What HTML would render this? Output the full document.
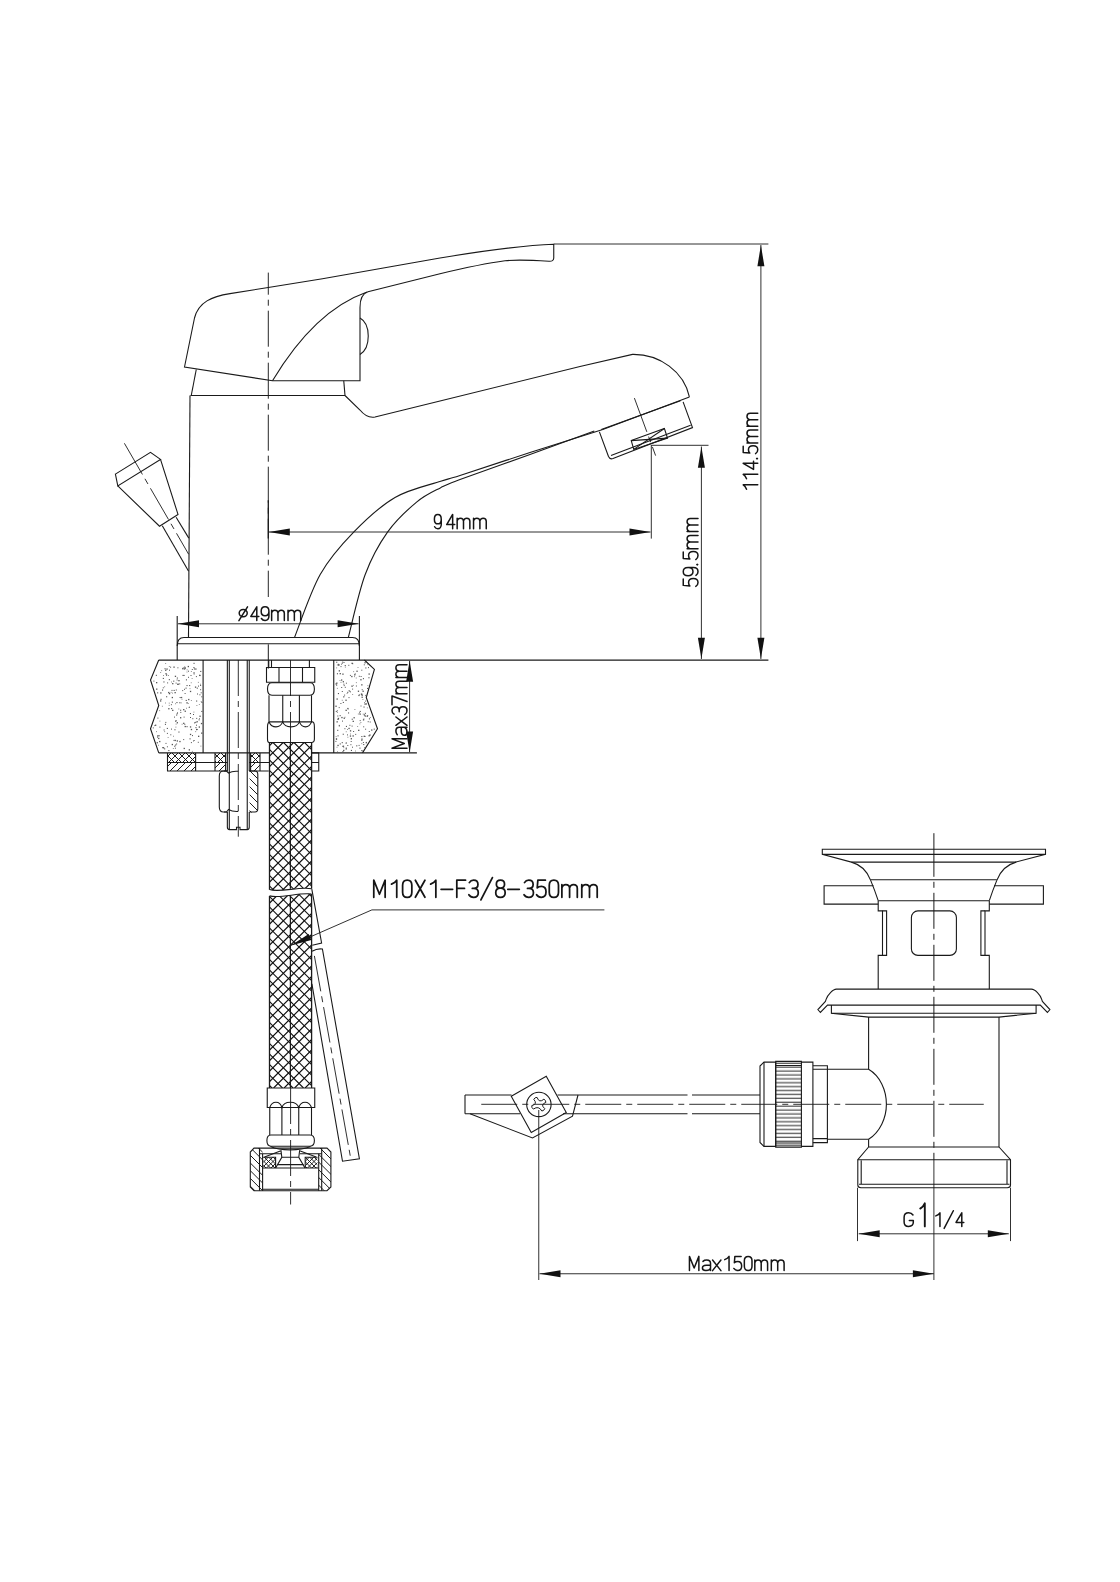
<!DOCTYPE html>
<html><head><meta charset="utf-8"><style>
html,body{margin:0;padding:0;background:#fff;width:1120px;height:1582px;overflow:hidden}
svg{display:block}
text{font-family:"Liberation Sans",sans-serif;fill:#111;stroke:none}
</style></head><body>
<svg width="1120" height="1582" viewBox="0 0 1120 1582">
<defs><clipPath id="c1"><path d="M167.5,752.9 h28.1 v9.6 h-28.1 Z"/></clipPath><clipPath id="c2"><path d="M167.5,752.9 h28.1 v9.6 h-28.1 Z"/></clipPath><clipPath id="c3"><path d="M167.5,762.5 h28.1 v8.5 h-28.1 Z"/></clipPath><clipPath id="c4"><path d="M215,752.9 h10.6 v9.6 h-10.6 Z"/></clipPath><clipPath id="c5"><path d="M215,752.9 h10.6 v9.6 h-10.6 Z"/></clipPath><clipPath id="c6"><path d="M215,762.5 h10.6 v8.5 h-10.6 Z"/></clipPath><clipPath id="c7"><path d="M250.6,752.9 h9.4 v9.6 h-9.4 Z"/></clipPath><clipPath id="c8"><path d="M250.6,752.9 h9.4 v9.6 h-9.4 Z"/></clipPath><clipPath id="c9"><path d="M250.6,762.5 h9.4 v8.5 h-9.4 Z"/></clipPath><clipPath id="c10"><path d="M249.6,771 h8 v41.5 h-8 Z"/></clipPath><clipPath id="c11"><path d="M269.3,742.5 L311.5,742.5 L311.5,888.75 C300,886 280,893 269.3,889.6 Z M269.3,895.9 C280,899 300,892 311.5,894.1 L311.5,1088 L269.3,1088 Z"/></clipPath><clipPath id="c12"><path d="M269.3,742.5 L311.5,742.5 L311.5,888.75 C300,886 280,893 269.3,889.6 Z M269.3,895.9 C280,899 300,892 311.5,894.1 L311.5,1088 L269.3,1088 Z"/></clipPath><clipPath id="c13"><path d="M250.3,1152 L254,1148.1 L262.6,1148.1 L262.6,1190.7 L254,1190.7 L250.3,1187 Z"/></clipPath><clipPath id="c14"><path d="M318.7,1148.1 L327,1148.1 L330.9,1152 L330.9,1187 L327,1190.7 L318.7,1190.7 Z"/></clipPath><clipPath id="c15"><path d="M263.4,1157.3 h12.2 v10.7 h-12.2 Z"/></clipPath><clipPath id="c16"><path d="M263.4,1157.3 h12.2 v10.7 h-12.2 Z"/></clipPath><clipPath id="c17"><path d="M305.2,1157.3 h12.2 v10.7 h-12.2 Z"/></clipPath><clipPath id="c18"><path d="M305.2,1157.3 h12.2 v10.7 h-12.2 Z"/></clipPath>
<pattern id="xb" patternUnits="userSpaceOnUse" width="10.5" height="10.5" patternTransform="translate(272.8,962.8)">
<path d="M0,0 L10.5,10.5 M10.5,0 L0,10.5 M-1,9.5 L1,11.5 M9.5,-1 L11.5,1 M-1,1 L1,-1 M9.5,11.5 L11.5,9.5" stroke="#111" stroke-width="1.15"/></pattern>
<pattern id="xh" patternUnits="userSpaceOnUse" width="5" height="5">
<path d="M0,0 L5,5 M5,0 L0,5" stroke="#111" stroke-width="0.9"/></pattern>
<pattern id="dh" patternUnits="userSpaceOnUse" width="5" height="5" patternTransform="rotate(45)">
<path d="M0,0 L0,5" stroke="#111" stroke-width="0.9"/></pattern>
<pattern id="kn" patternUnits="userSpaceOnUse" width="10" height="3.9" patternTransform="translate(0,1062)">
<path d="M0,1.2 L10,1.2" stroke="#222" stroke-width="1"/></pattern>
</defs>
<g fill="none" stroke="#1a1a1a" stroke-linecap="butt" stroke-linejoin="miter">
<path d="M184.5,367 L194.5,318 C198.5,302 212,296.5 230,293.6 L268.25,287.5 L322.5,278.75 L440,258 C485,250.5 520,245.5 553.75,244.3 L553.75,258 C553.75,260.5 552,261.4 549,261.2 C530,260 515,259.5 505,260.8 C485,263.5 460,269 440,273.75 L368,291.8 C362.5,293.5 360,299 360,307.5 L360,380.75 L272.5,380.75 Z" stroke-width="1.1" />
<path d="M272.5,380.75 C300,335 330,305 367,292" stroke-width="1.1" />
<path d="M360,318 C371,324 371,348 360,354.5" stroke-width="1.1" />
<line x1="196.25" y1="369.5" x2="191.25" y2="395.5" stroke-width="1.1" />
<line x1="343.75" y1="380.75" x2="345" y2="395.5" stroke-width="1.1" />
<line x1="190.5" y1="395.5" x2="345" y2="395.5" stroke-width="1.1" />
<line x1="190" y1="395.5" x2="188.5" y2="637.5" stroke-width="1.1" />
<path d="M345,395.5 L360,410 C364,415 369,418 375,417 L440,401 L580,366.5 L632.5,354.4 C660,354 684,372 689.4,396.9" stroke-width="1.1" />
<path d="M294.5,637.5 C298.78,627.00 310.30,592.10 320.2,574.5 C330.10,556.90 341.43,544.73 353.9,531.9 C366.37,519.07 380.53,505.94 395,497.5 C409.47,489.06 429.87,484.90 440.7,481.25 C451.53,477.60 445.12,480.39 460,475.6 C474.88,470.81 506.20,460.17 530,452.5 C553.80,444.83 590.67,433.42 602.8,429.6 L689.4,396.9" stroke-width="1.1" />
<path d="M348.3,637.5 C351.12,627.00 358.63,592.10 365.2,574.5 C371.77,556.90 379.13,543.97 387.7,531.9 C396.27,519.83 407.77,509.47 416.6,502.1 C425.43,494.73 433.47,491.45 440.7,487.7 C447.93,483.95 445.12,485.13 460,479.6 C474.88,474.07 507.62,462.60 530,454.5 C552.38,446.40 583.58,434.92 594.3,431" stroke-width="1.1" />
<line x1="601.25" y1="429.4" x2="680.5" y2="400.7" stroke-width="1.1" />
<path d="M599.4,431.9 L608.5,456.5 C609.5,458.7 611,459.3 613,458.6 L692.5,427.6 L683.1,401.9" stroke-width="1.1" />
<line x1="611" y1="455.6" x2="690.6" y2="425.2" stroke-width="1.1" />
<path d="M631.25,440.6 L664.4,428.5 L667.5,438.1 L633.75,449.4 Z" stroke-width="1.1" />
<line x1="631.25" y1="440.6" x2="667.5" y2="438.1" stroke-width="1.1" />
<line x1="633.75" y1="449.4" x2="664.4" y2="428.5" stroke-width="1.1" />
<line x1="634.4" y1="398.1" x2="655.6" y2="455.6" stroke-width="0.9" stroke-dasharray="36 5 6 5" stroke-dashoffset="0"/>
<path d="M115.4,474.1 L150.5,452.3 L160.5,459.4 L117.8,485.9 Z" stroke-width="1.1" />
<path d="M117.8,485.9 L159.5,526.2 L178,514.4 L160.5,459.4" stroke-width="1.1" />
<line x1="162.3" y1="525.7" x2="188.6" y2="571.2" stroke-width="1.1" />
<line x1="176.1" y1="517.2" x2="188.8" y2="538.1" stroke-width="1.1" />
<line x1="124.4" y1="443.3" x2="188.6" y2="554.2" stroke-width="0.9" stroke-dasharray="36 5 6 5" stroke-dashoffset="0"/>
<line x1="268.3" y1="272.6" x2="268.3" y2="597" stroke-width="0.95" stroke-dasharray="36 5 6 5" stroke-dashoffset="13.9"/>
<line x1="268.3" y1="500.3" x2="268.3" y2="538.6" stroke-width="1.3" />
<line x1="268.3" y1="644.3" x2="268.3" y2="668.6" stroke-width="1.0" />
<path d="M177.2,660 L177.2,646 C177.2,640 179,637.5 184,637.5 L352.5,637.5 C357.5,637.5 359.4,640 359.4,646 L359.4,660" stroke-width="1.1" />
<line x1="177.2" y1="643.8" x2="359.4" y2="643.8" stroke-width="1.1" />
<line x1="177.2" y1="616" x2="177.2" y2="646" stroke-width="1.1" />
<line x1="359.4" y1="616" x2="359.4" y2="646" stroke-width="1.1" />
<line x1="178" y1="623.8" x2="358.6" y2="623.8" stroke-width="0.9" />
<path d="M178.00,623.80 L199.00,620.30 L199.00,627.30 Z" fill="#111" stroke="none"/>
<path d="M358.60,623.80 L337.60,627.30 L337.60,620.30 Z" fill="#111" stroke="none"/>
<g transform="translate(238.9,606.8) scale(1.4367,1.3600)" fill="none" stroke="#151515" stroke-width="1.5" stroke-linecap="round" stroke-linejoin="round"><path transform="translate(0.000,0) scale(1.0,1)" d="M3,1.9 C4.6,1.9 5.8,3.1 5.8,4.6 C5.8,6.1 4.6,7.4 3,7.4 C1.4,7.4 0.2,6.1 0.2,4.6 C0.2,3.1 1.4,1.9 3,1.9 Z M0,10.2 L6,0" vector-effect="non-scaling-stroke"/><path transform="translate(8.310,0) scale(0.9,1)" d="M4.6,10 L4.6,0 L0,7.1 L6.2,7.1" vector-effect="non-scaling-stroke"/><path transform="translate(15.500,0) scale(0.9,1)" d="M6,3.3 C6,5.3 4.8,6.6 3,6.6 C1.2,6.6 0,5.3 0,3.3 C0,1.3 1.2,0 3,0 C4.8,0 6,1.3 6,3.3 L6,6.8 C6,8.8 4.8,10 3,10 C1.8,10 0.8,9.5 0.2,8.6" vector-effect="non-scaling-stroke"/><path transform="translate(22.784,0) scale(0.92,1)" d="M0,10 L0,2.6 M0,4.4 C0.4,3.3 1.2,2.6 2.4,2.6 C3.8,2.6 4.8,3.3 4.8,4.8 L4.8,10 M4.8,4.4 C5.2,3.3 6,2.6 7.2,2.6 C8.6,2.6 9.6,3.3 9.6,4.8 L9.6,10" vector-effect="non-scaling-stroke"/><path transform="translate(34.184,0) scale(0.92,1)" d="M0,10 L0,2.6 M0,4.4 C0.4,3.3 1.2,2.6 2.4,2.6 C3.8,2.6 4.8,3.3 4.8,4.8 L4.8,10 M4.8,4.4 C5.2,3.3 6,2.6 7.2,2.6 C8.6,2.6 9.6,3.3 9.6,4.8 L9.6,10" vector-effect="non-scaling-stroke"/></g>
<line x1="268.8" y1="532" x2="650.5" y2="532" stroke-width="0.9" />
<path d="M268.80,532.00 L289.80,528.50 L289.80,535.50 Z" fill="#111" stroke="none"/>
<path d="M650.50,532.00 L629.50,535.50 L629.50,528.50 Z" fill="#111" stroke="none"/>
<line x1="651.3" y1="445" x2="651.3" y2="538.6" stroke-width="0.9" />
<g transform="translate(434,514.4) scale(1.2719,1.4350)" fill="none" stroke="#151515" stroke-width="1.5" stroke-linecap="round" stroke-linejoin="round"><path transform="translate(0.300,0) scale(0.9,1)" d="M6,3.3 C6,5.3 4.8,6.6 3,6.6 C1.2,6.6 0,5.3 0,3.3 C0,1.3 1.2,0 3,0 C4.8,0 6,1.3 6,3.3 L6,6.8 C6,8.8 4.8,10 3,10 C1.8,10 0.8,9.5 0.2,8.6" vector-effect="non-scaling-stroke"/></g>
<g transform="translate(446.25,514.4) scale(1.4380,1.4350)" fill="none" stroke="#151515" stroke-width="1.5" stroke-linecap="round" stroke-linejoin="round"><path transform="translate(0.310,0) scale(0.9,1)" d="M4.6,10 L4.6,0 L0,7.1 L6.2,7.1" vector-effect="non-scaling-stroke"/><path transform="translate(7.584,0) scale(0.92,1)" d="M0,10 L0,2.6 M0,4.4 C0.4,3.3 1.2,2.6 2.4,2.6 C3.8,2.6 4.8,3.3 4.8,4.8 L4.8,10 M4.8,4.4 C5.2,3.3 6,2.6 7.2,2.6 C8.6,2.6 9.6,3.3 9.6,4.8 L9.6,10" vector-effect="non-scaling-stroke"/><path transform="translate(18.984,0) scale(0.92,1)" d="M0,10 L0,2.6 M0,4.4 C0.4,3.3 1.2,2.6 2.4,2.6 C3.8,2.6 4.8,3.3 4.8,4.8 L4.8,10 M4.8,4.4 C5.2,3.3 6,2.6 7.2,2.6 C8.6,2.6 9.6,3.3 9.6,4.8 L9.6,10" vector-effect="non-scaling-stroke"/></g>
<line x1="651.3" y1="445.3" x2="708.5" y2="445.3" stroke-width="0.9" />
<line x1="701.4" y1="446.5" x2="701.4" y2="659" stroke-width="0.9" />
<path d="M701.40,446.80 L704.90,467.80 L697.90,467.80 Z" fill="#111" stroke="none"/>
<path d="M701.40,658.80 L697.90,637.80 L704.90,637.80 Z" fill="#111" stroke="none"/>
<g transform="translate(683.25,586.9) rotate(-90) scale(1.4951,1.4750)" fill="none" stroke="#151515" stroke-width="1.5" stroke-linecap="round" stroke-linejoin="round"><path transform="translate(0.300,0) scale(0.9,1)" d="M5.6,0 L0.8,0 L0.4,4.5 C1.1,3.9 2,3.6 3,3.6 C4.8,3.6 6,4.9 6,6.8 C6,8.7 4.8,10 3,10 C1.7,10 0.6,9.4 0,8.5" vector-effect="non-scaling-stroke"/><path transform="translate(7.500,0) scale(0.9,1)" d="M6,3.3 C6,5.3 4.8,6.6 3,6.6 C1.2,6.6 0,5.3 0,3.3 C0,1.3 1.2,0 3,0 C4.8,0 6,1.3 6,3.3 L6,6.8 C6,8.8 4.8,10 3,10 C1.8,10 0.8,9.5 0.2,8.6" vector-effect="non-scaling-stroke"/><path transform="translate(14.400,0) scale(1.0,1)" d="M0.2,9.5 L0.8,9.5 M0.5,9.2 L0.5,9.8" vector-effect="non-scaling-stroke"/><path transform="translate(18.300,0) scale(0.9,1)" d="M5.6,0 L0.8,0 L0.4,4.5 C1.1,3.9 2,3.6 3,3.6 C4.8,3.6 6,4.9 6,6.8 C6,8.7 4.8,10 3,10 C1.7,10 0.6,9.4 0,8.5" vector-effect="non-scaling-stroke"/><path transform="translate(25.584,0) scale(0.92,1)" d="M0,10 L0,2.6 M0,4.4 C0.4,3.3 1.2,2.6 2.4,2.6 C3.8,2.6 4.8,3.3 4.8,4.8 L4.8,10 M4.8,4.4 C5.2,3.3 6,2.6 7.2,2.6 C8.6,2.6 9.6,3.3 9.6,4.8 L9.6,10" vector-effect="non-scaling-stroke"/><path transform="translate(36.984,0) scale(0.92,1)" d="M0,10 L0,2.6 M0,4.4 C0.4,3.3 1.2,2.6 2.4,2.6 C3.8,2.6 4.8,3.3 4.8,4.8 L4.8,10 M4.8,4.4 C5.2,3.3 6,2.6 7.2,2.6 C8.6,2.6 9.6,3.3 9.6,4.8 L9.6,10" vector-effect="non-scaling-stroke"/></g>
<line x1="553.75" y1="244" x2="768.4" y2="244" stroke-width="0.9" />
<line x1="760.9" y1="245" x2="760.9" y2="659" stroke-width="0.9" />
<path d="M760.90,245.20 L764.40,266.20 L757.40,266.20 Z" fill="#111" stroke="none"/>
<path d="M760.90,658.80 L757.40,637.80 L764.40,637.80 Z" fill="#111" stroke="none"/>
<g transform="translate(743.2,491) rotate(-90) scale(1.4656,1.4550)" fill="none" stroke="#151515" stroke-width="1.5" stroke-linecap="round" stroke-linejoin="round"><path transform="translate(0.000,0) scale(1.0,1)" d="M1.2,2.3 C2.4,1.8 3.6,1 4.2,0 L4.2,10" vector-effect="non-scaling-stroke"/><path transform="translate(7.200,0) scale(1.0,1)" d="M1.2,2.3 C2.4,1.8 3.6,1 4.2,0 L4.2,10" vector-effect="non-scaling-stroke"/><path transform="translate(14.710,0) scale(0.9,1)" d="M4.6,10 L4.6,0 L0,7.1 L6.2,7.1" vector-effect="non-scaling-stroke"/><path transform="translate(21.600,0) scale(1.0,1)" d="M0.2,9.5 L0.8,9.5 M0.5,9.2 L0.5,9.8" vector-effect="non-scaling-stroke"/><path transform="translate(25.500,0) scale(0.9,1)" d="M5.6,0 L0.8,0 L0.4,4.5 C1.1,3.9 2,3.6 3,3.6 C4.8,3.6 6,4.9 6,6.8 C6,8.7 4.8,10 3,10 C1.7,10 0.6,9.4 0,8.5" vector-effect="non-scaling-stroke"/><path transform="translate(32.784,0) scale(0.92,1)" d="M0,10 L0,2.6 M0,4.4 C0.4,3.3 1.2,2.6 2.4,2.6 C3.8,2.6 4.8,3.3 4.8,4.8 L4.8,10 M4.8,4.4 C5.2,3.3 6,2.6 7.2,2.6 C8.6,2.6 9.6,3.3 9.6,4.8 L9.6,10" vector-effect="non-scaling-stroke"/><path transform="translate(44.184,0) scale(0.92,1)" d="M0,10 L0,2.6 M0,4.4 C0.4,3.3 1.2,2.6 2.4,2.6 C3.8,2.6 4.8,3.3 4.8,4.8 L4.8,10 M4.8,4.4 C5.2,3.3 6,2.6 7.2,2.6 C8.6,2.6 9.6,3.3 9.6,4.8 L9.6,10" vector-effect="non-scaling-stroke"/></g>
<line x1="158.75" y1="660.2" x2="768.4" y2="660.2" stroke-width="1.2" />
<line x1="158.75" y1="752.9" x2="269.3" y2="752.9" stroke-width="1.2" />
<line x1="311.5" y1="752.9" x2="416.9" y2="752.9" stroke-width="1.2" />
<path d="M158.75,660 L150.5,680 L158.75,705.5 L150.5,728.75 L158.75,752.9" stroke-width="1.1" />
<line x1="203.1" y1="660" x2="203.1" y2="752.9" stroke-width="1.1" />
<path d="M364.4,660 L374.4,669.4 L366.25,697.5 L377.5,728.75 L362.5,752.9" stroke-width="1.1" />
<line x1="333.75" y1="660" x2="333.75" y2="752.9" stroke-width="1.1" />
<g fill="#555" stroke="none"><rect x="168.1" y="675.1" width="0.8" height="0.8"/><rect x="170.1" y="666.7" width="1.0" height="1.0"/><rect x="173.1" y="735.8" width="0.8" height="0.8"/><rect x="199.0" y="718.2" width="0.8" height="0.8"/><rect x="180.6" y="697.2" width="1.0" height="1.0"/><rect x="166.4" y="674.5" width="0.8" height="0.8"/><rect x="180.3" y="711.9" width="1.0" height="1.0"/><rect x="161.3" y="670.3" width="0.8" height="0.8"/><rect x="180.0" y="717.1" width="1.3" height="1.3"/><rect x="185.7" y="699.9" width="1.1" height="1.1"/><rect x="175.1" y="744.5" width="1.1" height="1.1"/><rect x="166.9" y="732.9" width="1.0" height="1.0"/><rect x="156.1" y="688.5" width="1.3" height="1.3"/><rect x="195.4" y="727.1" width="1.1" height="1.1"/><rect x="182.2" y="668.1" width="1.3" height="1.3"/><rect x="160.2" y="692.3" width="1.3" height="1.3"/><rect x="172.9" y="748.0" width="0.8" height="0.8"/><rect x="189.9" y="713.0" width="1.1" height="1.1"/><rect x="168.9" y="693.0" width="1.3" height="1.3"/><rect x="180.8" y="702.5" width="0.8" height="0.8"/><rect x="198.9" y="704.1" width="0.8" height="0.8"/><rect x="155.0" y="724.6" width="1.3" height="1.3"/><rect x="166.1" y="696.2" width="1.1" height="1.1"/><rect x="160.3" y="672.0" width="0.8" height="0.8"/><rect x="162.8" y="687.3" width="1.0" height="1.0"/><rect x="171.7" y="743.9" width="1.3" height="1.3"/><rect x="179.3" y="740.9" width="1.3" height="1.3"/><rect x="194.9" y="686.5" width="1.3" height="1.3"/><rect x="200.9" y="722.9" width="1.3" height="1.3"/><rect x="199.5" y="675.1" width="1.0" height="1.0"/><rect x="159.5" y="720.7" width="0.8" height="0.8"/><rect x="176.1" y="714.5" width="1.1" height="1.1"/><rect x="166.0" y="674.6" width="1.1" height="1.1"/><rect x="182.2" y="690.1" width="1.0" height="1.0"/><rect x="186.2" y="707.8" width="0.8" height="0.8"/><rect x="174.6" y="739.8" width="1.3" height="1.3"/><rect x="171.7" y="696.9" width="1.3" height="1.3"/><rect x="183.5" y="667.1" width="0.8" height="0.8"/><rect x="200.8" y="701.1" width="0.8" height="0.8"/><rect x="168.9" y="666.2" width="0.8" height="0.8"/><rect x="180.1" y="709.7" width="1.1" height="1.1"/><rect x="182.4" y="667.8" width="1.0" height="1.0"/><rect x="182.5" y="674.9" width="1.1" height="1.1"/><rect x="199.4" y="715.6" width="1.3" height="1.3"/><rect x="158.1" y="737.8" width="1.3" height="1.3"/><rect x="175.8" y="689.5" width="1.0" height="1.0"/><rect x="157.1" y="692.3" width="1.1" height="1.1"/><rect x="175.7" y="723.7" width="0.8" height="0.8"/><rect x="162.2" y="747.1" width="1.1" height="1.1"/><rect x="159.3" y="710.3" width="0.8" height="0.8"/><rect x="189.6" y="688.3" width="0.8" height="0.8"/><rect x="186.5" y="685.0" width="1.1" height="1.1"/><rect x="197.0" y="693.5" width="1.0" height="1.0"/><rect x="178.4" y="731.5" width="1.1" height="1.1"/><rect x="183.6" y="716.6" width="1.0" height="1.0"/><rect x="192.0" y="735.1" width="1.0" height="1.0"/><rect x="161.9" y="705.8" width="0.8" height="0.8"/><rect x="201.1" y="732.5" width="1.3" height="1.3"/><rect x="164.9" y="723.8" width="1.1" height="1.1"/><rect x="174.2" y="745.7" width="1.1" height="1.1"/><rect x="199.4" y="694.3" width="1.0" height="1.0"/><rect x="168.8" y="704.9" width="0.8" height="0.8"/><rect x="175.8" y="720.2" width="0.8" height="0.8"/><rect x="193.4" y="672.3" width="1.3" height="1.3"/><rect x="190.8" y="728.9" width="1.3" height="1.3"/><rect x="196.1" y="700.5" width="1.1" height="1.1"/><rect x="187.8" y="703.1" width="0.8" height="0.8"/><rect x="188.0" y="676.8" width="1.0" height="1.0"/><rect x="175.1" y="720.5" width="1.3" height="1.3"/><rect x="184.6" y="693.0" width="1.0" height="1.0"/><rect x="188.0" y="670.7" width="1.0" height="1.0"/><rect x="173.5" y="739.9" width="1.0" height="1.0"/><rect x="153.4" y="680.6" width="1.0" height="1.0"/><rect x="189.9" y="690.8" width="1.3" height="1.3"/><rect x="193.4" y="667.0" width="1.1" height="1.1"/><rect x="196.5" y="721.1" width="1.3" height="1.3"/><rect x="193.0" y="740.4" width="1.0" height="1.0"/><rect x="178.4" y="708.6" width="0.8" height="0.8"/><rect x="195.3" y="731.3" width="0.8" height="0.8"/><rect x="190.5" y="675.0" width="1.0" height="1.0"/><rect x="175.5" y="726.7" width="0.8" height="0.8"/><rect x="168.2" y="708.1" width="1.3" height="1.3"/><rect x="190.9" y="671.0" width="0.8" height="0.8"/><rect x="164.3" y="686.4" width="0.8" height="0.8"/><rect x="177.2" y="712.0" width="0.8" height="0.8"/><rect x="174.0" y="716.6" width="1.0" height="1.0"/><rect x="186.4" y="702.2" width="1.3" height="1.3"/><rect x="177.2" y="683.8" width="1.1" height="1.1"/><rect x="197.8" y="741.8" width="1.0" height="1.0"/><rect x="193.7" y="673.8" width="0.8" height="0.8"/><rect x="171.5" y="689.9" width="1.0" height="1.0"/><rect x="173.2" y="680.6" width="1.1" height="1.1"/><rect x="190.9" y="742.1" width="1.0" height="1.0"/><rect x="198.6" y="719.3" width="1.1" height="1.1"/><rect x="159.1" y="740.9" width="1.3" height="1.3"/><rect x="162.9" y="747.1" width="1.3" height="1.3"/><rect x="195.9" y="676.1" width="1.0" height="1.0"/><rect x="160.0" y="700.3" width="1.3" height="1.3"/><rect x="168.8" y="679.1" width="1.1" height="1.1"/><rect x="168.8" y="702.7" width="0.8" height="0.8"/><rect x="171.1" y="708.0" width="1.1" height="1.1"/><rect x="177.4" y="667.3" width="1.0" height="1.0"/><rect x="200.2" y="670.9" width="1.1" height="1.1"/><rect x="165.5" y="742.9" width="1.0" height="1.0"/><rect x="165.4" y="673.1" width="1.3" height="1.3"/><rect x="194.1" y="722.3" width="1.1" height="1.1"/><rect x="172.1" y="709.7" width="1.3" height="1.3"/><rect x="186.7" y="669.5" width="0.8" height="0.8"/><rect x="191.7" y="678.0" width="0.8" height="0.8"/><rect x="165.3" y="663.0" width="0.8" height="0.8"/><rect x="191.8" y="669.0" width="1.0" height="1.0"/><rect x="174.5" y="692.0" width="1.3" height="1.3"/><rect x="198.0" y="685.6" width="1.0" height="1.0"/><rect x="154.1" y="725.3" width="0.8" height="0.8"/><rect x="200.1" y="685.0" width="1.0" height="1.0"/><rect x="162.0" y="689.5" width="1.1" height="1.1"/><rect x="178.3" y="680.0" width="1.3" height="1.3"/><rect x="176.8" y="677.5" width="1.1" height="1.1"/><rect x="191.9" y="750.9" width="0.8" height="0.8"/><rect x="152.8" y="727.4" width="1.0" height="1.0"/><rect x="177.5" y="683.6" width="1.3" height="1.3"/><rect x="157.3" y="735.1" width="1.3" height="1.3"/><rect x="184.6" y="710.6" width="1.3" height="1.3"/><rect x="200.1" y="689.2" width="1.0" height="1.0"/><rect x="200.7" y="692.3" width="1.0" height="1.0"/><rect x="172.1" y="692.7" width="0.8" height="0.8"/><rect x="193.5" y="662.8" width="1.1" height="1.1"/><rect x="173.4" y="666.5" width="1.3" height="1.3"/><rect x="195.2" y="721.8" width="1.1" height="1.1"/><rect x="181.7" y="723.8" width="0.8" height="0.8"/><rect x="174.8" y="675.7" width="1.3" height="1.3"/><rect x="168.3" y="750.0" width="1.1" height="1.1"/><rect x="164.1" y="748.3" width="1.1" height="1.1"/><rect x="162.8" y="677.9" width="1.1" height="1.1"/><rect x="170.9" y="704.2" width="1.0" height="1.0"/><rect x="164.3" y="731.3" width="0.8" height="0.8"/><rect x="165.1" y="669.6" width="1.3" height="1.3"/><rect x="181.1" y="696.9" width="1.1" height="1.1"/><rect x="167.1" y="682.4" width="1.0" height="1.0"/><rect x="184.6" y="725.9" width="1.3" height="1.3"/><rect x="189.9" y="726.3" width="1.3" height="1.3"/><rect x="159.4" y="726.6" width="1.0" height="1.0"/><rect x="196.2" y="717.9" width="1.0" height="1.0"/><rect x="197.1" y="729.2" width="0.8" height="0.8"/><rect x="193.0" y="714.0" width="1.0" height="1.0"/><rect x="183.6" y="747.8" width="1.3" height="1.3"/><rect x="193.5" y="711.7" width="0.8" height="0.8"/><rect x="183.1" y="722.7" width="1.3" height="1.3"/><rect x="165.1" y="702.6" width="0.8" height="0.8"/><rect x="189.1" y="706.7" width="0.8" height="0.8"/><rect x="184.7" y="667.4" width="1.3" height="1.3"/><rect x="164.5" y="668.2" width="1.1" height="1.1"/><rect x="163.6" y="729.5" width="1.0" height="1.0"/><rect x="188.7" y="749.2" width="1.3" height="1.3"/><rect x="193.9" y="668.4" width="1.1" height="1.1"/><rect x="190.0" y="717.0" width="1.0" height="1.0"/><rect x="155.8" y="674.8" width="1.1" height="1.1"/><rect x="184.3" y="723.8" width="1.0" height="1.0"/><rect x="165.3" y="721.9" width="1.0" height="1.0"/><rect x="185.5" y="687.6" width="1.1" height="1.1"/><rect x="175.0" y="703.4" width="0.8" height="0.8"/><rect x="201.3" y="710.9" width="1.1" height="1.1"/><rect x="200.5" y="745.7" width="0.8" height="0.8"/><rect x="166.4" y="668.4" width="1.3" height="1.3"/><rect x="201.3" y="696.3" width="1.0" height="1.0"/><rect x="189.1" y="685.0" width="1.1" height="1.1"/><rect x="158.6" y="735.2" width="1.1" height="1.1"/><rect x="196.0" y="724.7" width="1.0" height="1.0"/><rect x="176.7" y="740.3" width="1.3" height="1.3"/><rect x="176.4" y="702.0" width="1.1" height="1.1"/><rect x="188.1" y="698.9" width="1.3" height="1.3"/><rect x="167.7" y="737.0" width="0.8" height="0.8"/><rect x="168.1" y="691.9" width="1.3" height="1.3"/><rect x="158.0" y="744.8" width="0.8" height="0.8"/><rect x="196.7" y="687.6" width="1.1" height="1.1"/><rect x="195.2" y="668.4" width="1.3" height="1.3"/><rect x="189.5" y="738.3" width="1.1" height="1.1"/><rect x="157.0" y="736.5" width="1.1" height="1.1"/><rect x="183.5" y="674.9" width="1.1" height="1.1"/><rect x="173.6" y="689.9" width="1.1" height="1.1"/><rect x="190.9" y="700.0" width="0.8" height="0.8"/><rect x="192.3" y="718.2" width="1.0" height="1.0"/><rect x="187.7" y="665.9" width="1.3" height="1.3"/><rect x="174.4" y="729.2" width="1.1" height="1.1"/><rect x="176.1" y="743.5" width="1.0" height="1.0"/><rect x="160.5" y="698.8" width="1.1" height="1.1"/><rect x="166.8" y="727.9" width="1.1" height="1.1"/><rect x="172.1" y="683.0" width="1.3" height="1.3"/><rect x="179.6" y="697.0" width="1.0" height="1.0"/><rect x="183.9" y="668.3" width="1.3" height="1.3"/><rect x="179.3" y="702.2" width="1.1" height="1.1"/><rect x="201.4" y="702.0" width="1.0" height="1.0"/><rect x="179.2" y="683.4" width="1.0" height="1.0"/><rect x="169.0" y="669.7" width="1.0" height="1.0"/><rect x="170.3" y="734.3" width="1.0" height="1.0"/><rect x="196.0" y="728.9" width="1.3" height="1.3"/><rect x="171.0" y="728.6" width="1.0" height="1.0"/><rect x="170.7" y="691.9" width="0.8" height="0.8"/><rect x="176.7" y="713.1" width="1.1" height="1.1"/><rect x="183.2" y="739.1" width="1.0" height="1.0"/><rect x="156.6" y="742.1" width="1.3" height="1.3"/><rect x="171.8" y="701.6" width="1.1" height="1.1"/><rect x="194.1" y="740.0" width="0.8" height="0.8"/><rect x="189.9" y="733.8" width="1.3" height="1.3"/><rect x="198.0" y="735.7" width="1.3" height="1.3"/><rect x="200.2" y="683.8" width="0.8" height="0.8"/><rect x="163.1" y="675.2" width="0.8" height="0.8"/><rect x="198.7" y="726.4" width="1.3" height="1.3"/><rect x="156.2" y="731.3" width="0.8" height="0.8"/><rect x="190.8" y="682.4" width="0.8" height="0.8"/><rect x="184.0" y="688.8" width="1.0" height="1.0"/><rect x="183.1" y="709.0" width="1.3" height="1.3"/><rect x="186.6" y="671.6" width="0.8" height="0.8"/><rect x="166.9" y="746.3" width="1.0" height="1.0"/><rect x="171.2" y="681.6" width="0.8" height="0.8"/><rect x="174.9" y="747.7" width="1.0" height="1.0"/><rect x="175.6" y="682.6" width="1.0" height="1.0"/><rect x="184.2" y="666.5" width="1.0" height="1.0"/><rect x="176.7" y="722.1" width="1.3" height="1.3"/><rect x="156.0" y="682.0" width="1.3" height="1.3"/><rect x="197.9" y="681.9" width="0.8" height="0.8"/><rect x="186.5" y="726.1" width="1.1" height="1.1"/><rect x="185.9" y="679.3" width="1.1" height="1.1"/><rect x="188.7" y="706.9" width="1.0" height="1.0"/><rect x="176.6" y="679.5" width="1.0" height="1.0"/><rect x="163.4" y="681.4" width="1.1" height="1.1"/><rect x="157.4" y="717.6" width="1.0" height="1.0"/><rect x="196.5" y="705.1" width="0.8" height="0.8"/><rect x="199.1" y="674.7" width="1.3" height="1.3"/><rect x="181.6" y="698.8" width="0.8" height="0.8"/><rect x="342.8" y="701.9" width="1.1" height="1.1"/><rect x="342.8" y="745.6" width="1.3" height="1.3"/><rect x="336.5" y="721.2" width="1.3" height="1.3"/><rect x="353.3" y="671.3" width="0.8" height="0.8"/><rect x="346.7" y="693.1" width="0.8" height="0.8"/><rect x="358.1" y="729.7" width="1.3" height="1.3"/><rect x="349.8" y="735.4" width="1.3" height="1.3"/><rect x="338.8" y="724.9" width="1.0" height="1.0"/><rect x="350.4" y="744.2" width="1.0" height="1.0"/><rect x="348.4" y="727.8" width="1.3" height="1.3"/><rect x="336.5" y="698.4" width="1.3" height="1.3"/><rect x="336.9" y="664.6" width="0.8" height="0.8"/><rect x="368.0" y="667.1" width="1.0" height="1.0"/><rect x="365.7" y="742.3" width="1.1" height="1.1"/><rect x="350.0" y="691.6" width="0.8" height="0.8"/><rect x="345.9" y="725.9" width="1.1" height="1.1"/><rect x="364.7" y="715.0" width="0.8" height="0.8"/><rect x="336.2" y="682.5" width="1.3" height="1.3"/><rect x="364.4" y="703.4" width="1.3" height="1.3"/><rect x="368.5" y="673.4" width="1.3" height="1.3"/><rect x="342.7" y="733.7" width="1.1" height="1.1"/><rect x="368.8" y="731.0" width="1.0" height="1.0"/><rect x="348.6" y="690.2" width="1.1" height="1.1"/><rect x="367.2" y="715.1" width="1.0" height="1.0"/><rect x="351.2" y="675.9" width="1.3" height="1.3"/><rect x="337.9" y="664.5" width="1.1" height="1.1"/><rect x="341.8" y="699.8" width="0.8" height="0.8"/><rect x="338.7" y="670.2" width="1.3" height="1.3"/><rect x="342.3" y="673.5" width="1.3" height="1.3"/><rect x="360.5" y="722.1" width="0.8" height="0.8"/><rect x="367.0" y="687.9" width="1.1" height="1.1"/><rect x="358.4" y="695.0" width="1.1" height="1.1"/><rect x="343.4" y="683.7" width="1.0" height="1.0"/><rect x="344.8" y="686.8" width="1.0" height="1.0"/><rect x="348.5" y="697.1" width="1.0" height="1.0"/><rect x="355.9" y="682.3" width="0.8" height="0.8"/><rect x="361.9" y="750.6" width="0.8" height="0.8"/><rect x="335.4" y="740.9" width="1.0" height="1.0"/><rect x="336.9" y="687.9" width="0.8" height="0.8"/><rect x="337.3" y="715.5" width="1.0" height="1.0"/><rect x="345.8" y="731.4" width="0.8" height="0.8"/><rect x="339.6" y="715.1" width="1.1" height="1.1"/><rect x="344.1" y="694.6" width="1.0" height="1.0"/><rect x="337.0" y="751.4" width="0.8" height="0.8"/><rect x="359.7" y="720.1" width="1.0" height="1.0"/><rect x="368.5" y="735.1" width="1.3" height="1.3"/><rect x="362.9" y="678.1" width="1.1" height="1.1"/><rect x="338.4" y="664.3" width="1.3" height="1.3"/><rect x="357.6" y="667.2" width="0.8" height="0.8"/><rect x="367.7" y="721.2" width="1.0" height="1.0"/><rect x="361.3" y="669.7" width="1.0" height="1.0"/><rect x="351.5" y="685.9" width="1.1" height="1.1"/><rect x="362.5" y="699.1" width="0.8" height="0.8"/><rect x="348.0" y="712.4" width="1.1" height="1.1"/><rect x="352.1" y="663.1" width="1.1" height="1.1"/><rect x="361.5" y="696.6" width="1.3" height="1.3"/><rect x="343.5" y="662.0" width="1.0" height="1.0"/><rect x="352.5" y="735.3" width="1.3" height="1.3"/><rect x="358.8" y="694.3" width="1.0" height="1.0"/><rect x="340.5" y="666.1" width="1.0" height="1.0"/><rect x="361.4" y="743.3" width="0.8" height="0.8"/><rect x="358.6" y="744.9" width="1.0" height="1.0"/><rect x="341.2" y="687.0" width="1.0" height="1.0"/><rect x="355.2" y="733.9" width="1.0" height="1.0"/><rect x="347.5" y="736.8" width="0.8" height="0.8"/><rect x="337.4" y="744.8" width="1.3" height="1.3"/><rect x="338.8" y="725.5" width="1.0" height="1.0"/><rect x="361.3" y="738.5" width="1.3" height="1.3"/><rect x="360.3" y="679.1" width="1.3" height="1.3"/><rect x="342.7" y="681.1" width="1.3" height="1.3"/><rect x="349.9" y="674.9" width="1.0" height="1.0"/><rect x="336.9" y="712.1" width="0.8" height="0.8"/><rect x="362.5" y="690.6" width="1.3" height="1.3"/><rect x="359.7" y="710.9" width="1.1" height="1.1"/><rect x="361.7" y="689.2" width="1.0" height="1.0"/><rect x="352.6" y="720.7" width="1.3" height="1.3"/><rect x="355.8" y="677.6" width="0.8" height="0.8"/><rect x="360.5" y="705.5" width="1.0" height="1.0"/><rect x="353.5" y="717.1" width="1.3" height="1.3"/><rect x="369.3" y="734.4" width="1.3" height="1.3"/><rect x="339.6" y="673.0" width="1.3" height="1.3"/><rect x="350.1" y="733.6" width="0.8" height="0.8"/><rect x="336.9" y="673.2" width="1.1" height="1.1"/><rect x="366.9" y="707.5" width="0.8" height="0.8"/><rect x="365.9" y="741.9" width="1.0" height="1.0"/><rect x="336.3" y="667.5" width="0.8" height="0.8"/><rect x="343.1" y="749.8" width="1.3" height="1.3"/><rect x="347.0" y="734.4" width="1.0" height="1.0"/><rect x="363.2" y="726.3" width="1.0" height="1.0"/><rect x="337.9" y="693.0" width="1.1" height="1.1"/><rect x="341.7" y="742.1" width="1.1" height="1.1"/><rect x="345.6" y="748.2" width="1.3" height="1.3"/><rect x="343.7" y="685.1" width="1.0" height="1.0"/><rect x="348.3" y="664.8" width="1.0" height="1.0"/><rect x="351.7" y="718.7" width="1.1" height="1.1"/><rect x="362.9" y="742.0" width="1.0" height="1.0"/><rect x="367.5" y="685.3" width="0.8" height="0.8"/><rect x="361.2" y="693.8" width="1.3" height="1.3"/><rect x="357.9" y="713.6" width="0.8" height="0.8"/><rect x="345.5" y="709.7" width="1.3" height="1.3"/><rect x="365.3" y="694.9" width="1.3" height="1.3"/><rect x="349.9" y="730.2" width="1.3" height="1.3"/><rect x="344.6" y="716.8" width="0.8" height="0.8"/><rect x="347.3" y="707.9" width="1.1" height="1.1"/><rect x="361.3" y="750.0" width="1.1" height="1.1"/><rect x="365.1" y="728.7" width="1.0" height="1.0"/><rect x="341.3" y="716.9" width="1.3" height="1.3"/><rect x="352.3" y="694.2" width="0.8" height="0.8"/><rect x="340.6" y="681.9" width="0.8" height="0.8"/><rect x="336.2" y="661.7" width="1.1" height="1.1"/><rect x="347.6" y="708.5" width="1.0" height="1.0"/><rect x="352.1" y="688.6" width="1.0" height="1.0"/><rect x="343.6" y="717.6" width="1.3" height="1.3"/><rect x="341.7" y="662.8" width="1.0" height="1.0"/><rect x="364.1" y="702.0" width="0.8" height="0.8"/><rect x="361.3" y="739.8" width="1.1" height="1.1"/><rect x="351.6" y="685.3" width="0.8" height="0.8"/><rect x="337.5" y="735.3" width="1.1" height="1.1"/><rect x="359.5" y="713.5" width="1.3" height="1.3"/><rect x="345.4" y="742.7" width="0.8" height="0.8"/><rect x="337.8" y="663.8" width="1.0" height="1.0"/><rect x="344.9" y="666.7" width="0.8" height="0.8"/><rect x="335.8" y="711.0" width="1.0" height="1.0"/><rect x="341.0" y="679.4" width="1.3" height="1.3"/><rect x="368.4" y="677.2" width="1.1" height="1.1"/><rect x="337.8" y="717.8" width="1.3" height="1.3"/><rect x="364.4" y="662.1" width="1.3" height="1.3"/><rect x="365.6" y="703.3" width="1.3" height="1.3"/><rect x="342.4" y="751.1" width="1.1" height="1.1"/><rect x="344.7" y="665.0" width="1.1" height="1.1"/><rect x="337.4" y="718.7" width="1.3" height="1.3"/><rect x="363.2" y="744.0" width="1.1" height="1.1"/><rect x="347.3" y="745.0" width="1.0" height="1.0"/><rect x="338.7" y="707.1" width="1.0" height="1.0"/><rect x="345.9" y="682.7" width="1.0" height="1.0"/><rect x="373.7" y="728.6" width="1.1" height="1.1"/><rect x="343.1" y="696.4" width="1.0" height="1.0"/><rect x="350.7" y="738.1" width="1.3" height="1.3"/><rect x="354.5" y="709.2" width="0.8" height="0.8"/><rect x="364.8" y="712.8" width="1.1" height="1.1"/><rect x="359.1" y="712.3" width="1.0" height="1.0"/><rect x="341.1" y="663.9" width="0.8" height="0.8"/><rect x="360.6" y="676.0" width="1.0" height="1.0"/><rect x="363.8" y="664.3" width="1.0" height="1.0"/><rect x="363.5" y="718.5" width="0.8" height="0.8"/><rect x="365.3" y="667.4" width="1.1" height="1.1"/><rect x="343.4" y="747.3" width="0.8" height="0.8"/><rect x="371.1" y="729.4" width="1.3" height="1.3"/><rect x="339.6" y="680.0" width="0.8" height="0.8"/><rect x="336.6" y="746.8" width="0.8" height="0.8"/><rect x="368.9" y="718.3" width="1.1" height="1.1"/><rect x="354.7" y="673.4" width="1.0" height="1.0"/><rect x="347.2" y="691.8" width="1.1" height="1.1"/><rect x="336.1" y="684.6" width="1.1" height="1.1"/><rect x="337.2" y="729.8" width="1.1" height="1.1"/><rect x="366.6" y="715.6" width="1.3" height="1.3"/><rect x="369.9" y="717.1" width="0.8" height="0.8"/><rect x="367.4" y="664.3" width="0.8" height="0.8"/><rect x="349.4" y="724.8" width="1.0" height="1.0"/><rect x="364.4" y="735.9" width="1.1" height="1.1"/><rect x="342.2" y="661.6" width="1.0" height="1.0"/><rect x="347.0" y="729.0" width="0.8" height="0.8"/><rect x="335.4" y="705.6" width="1.3" height="1.3"/><rect x="363.6" y="735.7" width="1.3" height="1.3"/><rect x="359.4" y="747.6" width="1.1" height="1.1"/><rect x="358.8" y="675.8" width="1.0" height="1.0"/><rect x="342.0" y="745.9" width="0.8" height="0.8"/><rect x="355.2" y="750.6" width="0.8" height="0.8"/><rect x="360.8" y="693.5" width="1.3" height="1.3"/><rect x="361.6" y="694.9" width="1.1" height="1.1"/><rect x="346.0" y="742.5" width="1.0" height="1.0"/><rect x="350.7" y="741.0" width="1.0" height="1.0"/><rect x="359.5" y="723.5" width="0.8" height="0.8"/><rect x="349.5" y="690.9" width="1.0" height="1.0"/><rect x="357.8" y="690.6" width="1.3" height="1.3"/><rect x="353.1" y="731.0" width="1.0" height="1.0"/><rect x="340.4" y="703.0" width="1.0" height="1.0"/><rect x="355.9" y="685.5" width="1.0" height="1.0"/><rect x="364.7" y="715.7" width="1.1" height="1.1"/><rect x="341.8" y="691.0" width="1.0" height="1.0"/><rect x="345.8" y="747.4" width="0.8" height="0.8"/><rect x="342.0" y="720.6" width="1.0" height="1.0"/><rect x="350.9" y="749.9" width="1.1" height="1.1"/><rect x="365.1" y="700.6" width="1.0" height="1.0"/><rect x="339.7" y="743.4" width="1.1" height="1.1"/><rect x="343.7" y="696.4" width="0.8" height="0.8"/><rect x="335.8" y="738.3" width="1.3" height="1.3"/><rect x="363.5" y="706.5" width="1.1" height="1.1"/><rect x="354.1" y="674.2" width="1.3" height="1.3"/><rect x="335.5" y="683.3" width="1.3" height="1.3"/><rect x="363.8" y="714.3" width="1.3" height="1.3"/><rect x="369.7" y="721.5" width="1.0" height="1.0"/><rect x="362.9" y="719.2" width="1.3" height="1.3"/><rect x="352.9" y="684.9" width="0.8" height="0.8"/><rect x="351.6" y="725.6" width="1.0" height="1.0"/><rect x="345.4" y="699.6" width="1.3" height="1.3"/><rect x="336.1" y="738.7" width="1.0" height="1.0"/><rect x="335.7" y="736.3" width="0.8" height="0.8"/><rect x="336.8" y="710.3" width="1.0" height="1.0"/><rect x="364.4" y="747.0" width="1.0" height="1.0"/><rect x="356.4" y="670.6" width="1.3" height="1.3"/><rect x="357.3" y="726.0" width="0.8" height="0.8"/><rect x="361.3" y="736.0" width="1.1" height="1.1"/><rect x="352.0" y="746.7" width="1.0" height="1.0"/><rect x="356.2" y="745.3" width="1.1" height="1.1"/><rect x="361.2" y="684.2" width="1.3" height="1.3"/><rect x="351.5" y="662.7" width="1.3" height="1.3"/><rect x="362.8" y="713.7" width="0.8" height="0.8"/><rect x="344.4" y="728.2" width="1.0" height="1.0"/><rect x="354.1" y="676.3" width="0.8" height="0.8"/></g>
<line x1="409.6" y1="661" x2="409.6" y2="752" stroke-width="0.9" />
<path d="M409.60,660.80 L413.10,681.80 L406.10,681.80 Z" fill="#111" stroke="none"/>
<path d="M409.60,752.50 L406.10,731.50 L413.10,731.50 Z" fill="#111" stroke="none"/>
<g transform="translate(392,748.8) rotate(-90) scale(1.4331,1.5000)" fill="none" stroke="#151515" stroke-width="1.5" stroke-linecap="round" stroke-linejoin="round"><path transform="translate(0.444,0) scale(0.88,1)" d="M0,10 L0,0 L3.7,8.2 L7.4,0 L7.4,10" vector-effect="non-scaling-stroke"/><path transform="translate(9.400,0) scale(1.0,1)" d="M0.4,3.5 C1,2.9 1.9,2.6 3,2.6 C4.6,2.6 5.6,3.4 5.6,4.9 L5.6,10 M5.6,6.2 L2.6,6.2 C1,6.2 0,7 0,8.2 C0,9.3 1,10 2.4,10 C3.9,10 5,9.4 5.6,8.4" vector-effect="non-scaling-stroke"/><path transform="translate(16.400,0) scale(1.0,1)" d="M0,2.6 L5.8,10 M5.8,2.6 L0,10" vector-effect="non-scaling-stroke"/><path transform="translate(23.900,0) scale(0.9,1)" d="M0.3,1.4 C0.9,0.5 1.9,0 3,0 C4.7,0 5.8,1 5.8,2.5 C5.8,3.9 4.7,4.8 3.1,4.8 L2.2,4.8 M3.1,4.8 C4.9,4.8 6,5.8 6,7.3 C6,8.9 4.8,10 3,10 C1.7,10 0.6,9.4 0,8.5" vector-effect="non-scaling-stroke"/><path transform="translate(30.800,0) scale(1.0,1)" d="M0,0 L6,0 L2.2,10" vector-effect="non-scaling-stroke"/><path transform="translate(38.384,0) scale(0.92,1)" d="M0,10 L0,2.6 M0,4.4 C0.4,3.3 1.2,2.6 2.4,2.6 C3.8,2.6 4.8,3.3 4.8,4.8 L4.8,10 M4.8,4.4 C5.2,3.3 6,2.6 7.2,2.6 C8.6,2.6 9.6,3.3 9.6,4.8 L9.6,10" vector-effect="non-scaling-stroke"/><path transform="translate(49.784,0) scale(0.92,1)" d="M0,10 L0,2.6 M0,4.4 C0.4,3.3 1.2,2.6 2.4,2.6 C3.8,2.6 4.8,3.3 4.8,4.8 L4.8,10 M4.8,4.4 C5.2,3.3 6,2.6 7.2,2.6 C8.6,2.6 9.6,3.3 9.6,4.8 L9.6,10" vector-effect="non-scaling-stroke"/></g>
<path clip-path="url(#c1)" d="M150.90,752.90 L160.50,762.50 M157.90,752.90 L167.50,762.50 M164.90,752.90 L174.50,762.50 M171.90,752.90 L181.50,762.50 M178.90,752.90 L188.50,762.50 M185.90,752.90 L195.50,762.50 M192.90,752.90 L202.50,762.50 M199.90,752.90 L209.50,762.50 M206.90,752.90 L216.50,762.50" stroke="#111" stroke-width="0.95"/>
<path clip-path="url(#c2)" d="M157.10,752.90 L147.50,762.50 M164.10,752.90 L154.50,762.50 M171.10,752.90 L161.50,762.50 M178.10,752.90 L168.50,762.50 M185.10,752.90 L175.50,762.50 M192.10,752.90 L182.50,762.50 M199.10,752.90 L189.50,762.50 M206.10,752.90 L196.50,762.50 M213.10,752.90 L203.50,762.50" stroke="#111" stroke-width="0.95"/>
<path clip-path="url(#c3)" d="M157.50,762.50 L149.00,771.00 M164.50,762.50 L156.00,771.00 M171.50,762.50 L163.00,771.00 M178.50,762.50 L170.00,771.00 M185.50,762.50 L177.00,771.00 M192.50,762.50 L184.00,771.00 M199.50,762.50 L191.00,771.00 M206.50,762.50 L198.00,771.00 M213.50,762.50 L205.00,771.00" stroke="#111" stroke-width="0.95"/>
<path clip-path="url(#c4)" d="M192.90,752.90 L202.50,762.50 M199.90,752.90 L209.50,762.50 M206.90,752.90 L216.50,762.50 M213.90,752.90 L223.50,762.50 M220.90,752.90 L230.50,762.50 M227.90,752.90 L237.50,762.50 M234.90,752.90 L244.50,762.50" stroke="#111" stroke-width="0.95"/>
<path clip-path="url(#c5)" d="M206.10,752.90 L196.50,762.50 M213.10,752.90 L203.50,762.50 M220.10,752.90 L210.50,762.50 M227.10,752.90 L217.50,762.50 M234.10,752.90 L224.50,762.50 M241.10,752.90 L231.50,762.50 M248.10,752.90 L238.50,762.50" stroke="#111" stroke-width="0.95"/>
<path clip-path="url(#c6)" d="M206.50,762.50 L198.00,771.00 M213.50,762.50 L205.00,771.00 M220.50,762.50 L212.00,771.00 M227.50,762.50 L219.00,771.00 M234.50,762.50 L226.00,771.00 M241.50,762.50 L233.00,771.00" stroke="#111" stroke-width="0.95"/>
<path clip-path="url(#c7)" d="M227.90,752.90 L237.50,762.50 M234.90,752.90 L244.50,762.50 M241.90,752.90 L251.50,762.50 M248.90,752.90 L258.50,762.50 M255.90,752.90 L265.50,762.50 M262.90,752.90 L272.50,762.50 M269.90,752.90 L279.50,762.50" stroke="#111" stroke-width="0.95"/>
<path clip-path="url(#c8)" d="M241.10,752.90 L231.50,762.50 M248.10,752.90 L238.50,762.50 M255.10,752.90 L245.50,762.50 M262.10,752.90 L252.50,762.50 M269.10,752.90 L259.50,762.50 M276.10,752.90 L266.50,762.50 M283.10,752.90 L273.50,762.50" stroke="#111" stroke-width="0.95"/>
<path clip-path="url(#c9)" d="M241.50,762.50 L233.00,771.00 M248.50,762.50 L240.00,771.00 M255.50,762.50 L247.00,771.00 M262.50,762.50 L254.00,771.00 M269.50,762.50 L261.00,771.00 M276.50,762.50 L268.00,771.00" stroke="#111" stroke-width="0.95"/>
<path d="M167.5,752.9 L167.5,771 L227.5,771 M249.1,771 L268.75,771 M167.5,762.5 L227.5,762.5 M249.1,762.5 L269,762.5 M195.6,752.9 L195.6,771 M215,752.9 L215,771 M225.6,752.9 L225.6,771 M250.6,752.9 L250.6,771 M260,752.9 L260,771" stroke-width="1.1" />
<path d="M311.5,752.9 L318.75,752.9 L318.75,771 L311.5,771 M311.5,762.5 L318.75,762.5" stroke-width="1.1" />
<line x1="227.35" y1="660" x2="227.35" y2="771" stroke-width="1.1" />
<line x1="229.3" y1="660" x2="229.3" y2="829" stroke-width="1.1" />
<line x1="247.25" y1="660" x2="247.25" y2="829" stroke-width="1.1" />
<line x1="249.25" y1="660" x2="249.25" y2="771" stroke-width="1.1" />
<line x1="238.3" y1="660" x2="238.3" y2="836.7" stroke-width="0.9" stroke-dasharray="36 5 6 5" stroke-dashoffset="0"/>
<path clip-path="url(#c10)" d="M194.00,771.00 L236.00,813.00 M202.00,771.00 L244.00,813.00 M210.00,771.00 L252.00,813.00 M218.00,771.00 L260.00,813.00 M226.00,771.00 L268.00,813.00 M234.00,771.00 L276.00,813.00 M242.00,771.00 L284.00,813.00 M250.00,771.00 L292.00,813.00 M258.00,771.00 L300.00,813.00 M266.00,771.00 L308.00,813.00" stroke="#111" stroke-width="0.95"/>
<path d="M227.35,771 L223.5,771 C221,771 219.3,773 219.3,776 L219.3,807 C219.3,810.5 221,812 223.5,812 L227.35,812" stroke-width="1.1" />
<path d="M224,771 L226.5,771 L228.5,773 C231,771.5 235,771 238.3,771.3" stroke-width="1.1" />
<path d="M224,812 L226.5,812 L228.5,809.5 C231,811 235,811.6 238.3,811.4" stroke-width="1.1" />
<path d="M249.25,771 L255,771 C256.8,771 257.8,772.5 257.8,774.5 L257.8,808.5 C257.8,810.8 256.8,812 255,812 L249.25,812" stroke-width="1.1" />
<path d="M227.35,812 L227.35,827 C227.35,828.5 228.3,829.6 229.5,829.6 L236.5,829.6 L236.5,827.3 L240,827.3 L240,829.6 L247.3,829.6 C248.5,829.6 249.25,828.5 249.25,827 L249.25,812" stroke-width="1.1" />
<path d="M268.75,660 L268.75,667.5 M271.5,660 L271.5,667.5 M309.4,660 L309.4,667.5" stroke-width="1.1" />
<path d="M266.5,667.5 L314.75,667.5 L314.75,682.25 L266.5,682.25 Z M279,667.5 L279,682.25 M302.5,667.5 L302.5,682.25" stroke-width="1.1" />
<path d="M272,682.75 L310,682.75 C313,682.75 314.4,685 314.4,689 C314.4,693 313,695.25 310,695.25 L272,695.25 C269,695.25 267.5,693 267.5,689 C267.5,685 269,682.75 272,682.75 Z" stroke-width="1.1" />
<path d="M269,695.25 L269,721.9 M311.5,695.25 L311.5,721.9 M282.75,695.25 L282.75,721.9 M299.4,695.25 L299.4,721.9" stroke-width="1.1" />
<path d="M270,721.9 L312.5,721.9 C314,722 314.4,724 314.4,727 L314.4,739 C314.4,741.5 313.5,742.5 311.5,742.5 L269,742.5 C268,742.5 267.5,741.5 267.5,739 L267.5,727 C267.5,724 268,722 270,721.9 Z" stroke-width="1.1" />
<path d="M269,721.9 C272,728.5 280,728.5 282.75,721.9 C285,728.5 297,728.5 299.4,721.9 C302,728.5 309,728.5 311.5,721.9" stroke-width="1.1" />
<path clip-path="url(#c11)" d="M-95.00,742.00 L251.00,1088.00 M-84.50,742.00 L261.50,1088.00 M-74.00,742.00 L272.00,1088.00 M-63.50,742.00 L282.50,1088.00 M-53.00,742.00 L293.00,1088.00 M-42.50,742.00 L303.50,1088.00 M-32.00,742.00 L314.00,1088.00 M-21.50,742.00 L324.50,1088.00 M-11.00,742.00 L335.00,1088.00 M-0.50,742.00 L345.50,1088.00 M10.00,742.00 L356.00,1088.00 M20.50,742.00 L366.50,1088.00 M31.00,742.00 L377.00,1088.00 M41.50,742.00 L387.50,1088.00 M52.00,742.00 L398.00,1088.00 M62.50,742.00 L408.50,1088.00 M73.00,742.00 L419.00,1088.00 M83.50,742.00 L429.50,1088.00 M94.00,742.00 L440.00,1088.00 M104.50,742.00 L450.50,1088.00 M115.00,742.00 L461.00,1088.00 M125.50,742.00 L471.50,1088.00 M136.00,742.00 L482.00,1088.00 M146.50,742.00 L492.50,1088.00 M157.00,742.00 L503.00,1088.00 M167.50,742.00 L513.50,1088.00 M178.00,742.00 L524.00,1088.00 M188.50,742.00 L534.50,1088.00 M199.00,742.00 L545.00,1088.00 M209.50,742.00 L555.50,1088.00 M220.00,742.00 L566.00,1088.00 M230.50,742.00 L576.50,1088.00 M241.00,742.00 L587.00,1088.00 M251.50,742.00 L597.50,1088.00 M262.00,742.00 L608.00,1088.00 M272.50,742.00 L618.50,1088.00 M283.00,742.00 L629.00,1088.00 M293.50,742.00 L639.50,1088.00 M304.00,742.00 L650.00,1088.00 M314.50,742.00 L660.50,1088.00 M325.00,742.00 L671.00,1088.00" stroke="#111" stroke-width="1.15"/>
<path clip-path="url(#c12)" d="M252.10,742.00 L-93.90,1088.00 M262.60,742.00 L-83.40,1088.00 M273.10,742.00 L-72.90,1088.00 M283.60,742.00 L-62.40,1088.00 M294.10,742.00 L-51.90,1088.00 M304.60,742.00 L-41.40,1088.00 M315.10,742.00 L-30.90,1088.00 M325.60,742.00 L-20.40,1088.00 M336.10,742.00 L-9.90,1088.00 M346.60,742.00 L0.60,1088.00 M357.10,742.00 L11.10,1088.00 M367.60,742.00 L21.60,1088.00 M378.10,742.00 L32.10,1088.00 M388.60,742.00 L42.60,1088.00 M399.10,742.00 L53.10,1088.00 M409.60,742.00 L63.60,1088.00 M420.10,742.00 L74.10,1088.00 M430.60,742.00 L84.60,1088.00 M441.10,742.00 L95.10,1088.00 M451.60,742.00 L105.60,1088.00 M462.10,742.00 L116.10,1088.00 M472.60,742.00 L126.60,1088.00 M483.10,742.00 L137.10,1088.00 M493.60,742.00 L147.60,1088.00 M504.10,742.00 L158.10,1088.00 M514.60,742.00 L168.60,1088.00 M525.10,742.00 L179.10,1088.00 M535.60,742.00 L189.60,1088.00 M546.10,742.00 L200.10,1088.00 M556.60,742.00 L210.60,1088.00 M567.10,742.00 L221.10,1088.00 M577.60,742.00 L231.60,1088.00 M588.10,742.00 L242.10,1088.00 M598.60,742.00 L252.60,1088.00 M609.10,742.00 L263.10,1088.00 M619.60,742.00 L273.60,1088.00 M630.10,742.00 L284.10,1088.00 M640.60,742.00 L294.60,1088.00 M651.10,742.00 L305.10,1088.00 M661.60,742.00 L315.60,1088.00 M672.10,742.00 L326.10,1088.00" stroke="#111" stroke-width="1.15"/>
<path d="M269.6,889.6 C280,893 300,886 311.6,888.75" stroke-width="1.1" />
<path d="M269.6,895.9 C280,899 300,892 311.6,894.1" stroke-width="1.1" />
<line x1="269.5" y1="742.5" x2="269.5" y2="889.8" stroke-width="1.3" />
<line x1="311.6" y1="742.5" x2="311.6" y2="888.75" stroke-width="1.3" />
<line x1="269.5" y1="895.9" x2="269.5" y2="1088" stroke-width="1.3" />
<line x1="311.6" y1="894.1" x2="311.6" y2="1088" stroke-width="1.3" />
<line x1="290.4" y1="742.5" x2="290.4" y2="888.75" stroke-width="1.2" />
<line x1="290.4" y1="895.5" x2="290.4" y2="1088" stroke-width="1.2" />
<line x1="290.5" y1="660" x2="290.5" y2="742.5" stroke-width="0.9" stroke-dasharray="36 5 6 5" stroke-dashoffset="0"/>
<path d="M311.8,889.1 L321.6,943 L312.3,945.25" stroke-width="1.1" />
<path d="M311.9,983.75 L342.5,1161.25 L359.4,1158.75 L322.4,949 C319,948.5 315,949.5 312.1,951.3" stroke-width="1.1" />
<line x1="314.4" y1="955.9" x2="351" y2="1160" stroke-width="0.9" stroke-dasharray="36 5 6 5" stroke-dashoffset="0"/>
<line x1="371.9" y1="909.9" x2="604.4" y2="909.9" stroke-width="0.9" />
<line x1="371.9" y1="909.9" x2="290.8" y2="945.4" stroke-width="0.9" />
<path d="M290.80,945.40 L308.71,933.96 L311.36,940.00 Z" fill="#111" stroke="none"/>
<g transform="translate(373,880.2) scale(1.7459,1.7100)" fill="none" stroke="#151515" stroke-width="1.75" stroke-linecap="round" stroke-linejoin="round"><path transform="translate(0.444,0) scale(0.88,1)" d="M0,10 L0,0 L3.7,8.2 L7.4,0 L7.4,10" vector-effect="non-scaling-stroke"/><path transform="translate(9.400,0) scale(1.0,1)" d="M1.2,2.3 C2.4,1.8 3.6,1 4.2,0 L4.2,10" vector-effect="non-scaling-stroke"/><path transform="translate(16.960,0) scale(0.88,1)" d="M0,3 C0,1.1 1.2,0 3,0 C4.8,0 6,1.1 6,3 L6,7 C6,8.9 4.8,10 3,10 C1.2,10 0,8.9 0,7 Z" vector-effect="non-scaling-stroke"/><path transform="translate(24.248,0) scale(0.86,1)" d="M0,0 L6.4,10 M6.4,0 L0,10" vector-effect="non-scaling-stroke"/><path transform="translate(31.800,0) scale(1.0,1)" d="M1.2,2.3 C2.4,1.8 3.6,1 4.2,0 L4.2,10" vector-effect="non-scaling-stroke"/><path transform="translate(39.000,0) scale(1.0,1)" d="M0,5.3 L6.6,5.3" vector-effect="non-scaling-stroke"/><path transform="translate(48.000,0) scale(1.0,1)" d="M5,0 L0,0 L0,10 M0,4.8 L4.4,4.8" vector-effect="non-scaling-stroke"/><path transform="translate(54.900,0) scale(0.9,1)" d="M0.3,1.4 C0.9,0.5 1.9,0 3,0 C4.7,0 5.8,1 5.8,2.5 C5.8,3.9 4.7,4.8 3.1,4.8 L2.2,4.8 M3.1,4.8 C4.9,4.8 6,5.8 6,7.3 C6,8.9 4.8,10 3,10 C1.7,10 0.6,9.4 0,8.5" vector-effect="non-scaling-stroke"/><path transform="translate(61.800,0) scale(1.0,1)" d="M0,11.5 L6.6,-1.5" vector-effect="non-scaling-stroke"/><path transform="translate(70.300,0) scale(0.9,1)" d="M3,4.7 C1.5,4.7 0.4,3.8 0.4,2.4 C0.4,1 1.5,0 3,0 C4.5,0 5.6,1 5.6,2.4 C5.6,3.8 4.5,4.7 3,4.7 C1.2,4.7 0,5.8 0,7.3 C0,8.9 1.2,10 3,10 C4.8,10 6,8.9 6,7.3 C6,5.8 4.8,4.7 3,4.7 Z" vector-effect="non-scaling-stroke"/><path transform="translate(77.200,0) scale(1.0,1)" d="M0,5.3 L6.6,5.3" vector-effect="non-scaling-stroke"/><path transform="translate(86.500,0) scale(0.9,1)" d="M0.3,1.4 C0.9,0.5 1.9,0 3,0 C4.7,0 5.8,1 5.8,2.5 C5.8,3.9 4.7,4.8 3.1,4.8 L2.2,4.8 M3.1,4.8 C4.9,4.8 6,5.8 6,7.3 C6,8.9 4.8,10 3,10 C1.7,10 0.6,9.4 0,8.5" vector-effect="non-scaling-stroke"/><path transform="translate(93.700,0) scale(0.9,1)" d="M5.6,0 L0.8,0 L0.4,4.5 C1.1,3.9 2,3.6 3,3.6 C4.8,3.6 6,4.9 6,6.8 C6,8.7 4.8,10 3,10 C1.7,10 0.6,9.4 0,8.5" vector-effect="non-scaling-stroke"/><path transform="translate(100.960,0) scale(0.88,1)" d="M0,3 C0,1.1 1.2,0 3,0 C4.8,0 6,1.1 6,3 L6,7 C6,8.9 4.8,10 3,10 C1.2,10 0,8.9 0,7 Z" vector-effect="non-scaling-stroke"/><path transform="translate(108.184,0) scale(0.92,1)" d="M0,10 L0,2.6 M0,4.4 C0.4,3.3 1.2,2.6 2.4,2.6 C3.8,2.6 4.8,3.3 4.8,4.8 L4.8,10 M4.8,4.4 C5.2,3.3 6,2.6 7.2,2.6 C8.6,2.6 9.6,3.3 9.6,4.8 L9.6,10" vector-effect="non-scaling-stroke"/><path transform="translate(119.584,0) scale(0.92,1)" d="M0,10 L0,2.6 M0,4.4 C0.4,3.3 1.2,2.6 2.4,2.6 C3.8,2.6 4.8,3.3 4.8,4.8 L4.8,10 M4.8,4.4 C5.2,3.3 6,2.6 7.2,2.6 C8.6,2.6 9.6,3.3 9.6,4.8 L9.6,10" vector-effect="non-scaling-stroke"/></g>
<path d="M267.25,1088 L314.75,1088 L314.75,1107.5 L267.25,1107.5 Z" stroke-width="1.1" />
<path d="M269.75,1107.5 C272,1100.5 280,1100.5 281.9,1107.5 C284,1100.5 296.5,1100.5 298.75,1107.5 C301,1100.5 309,1100.5 311.5,1107.5" stroke-width="1.1" />
<path d="M269.75,1107.5 L269.75,1135 M281.9,1107.5 L281.9,1135 M298.75,1107.5 L298.75,1135 M311.5,1107.5 L311.5,1135" stroke-width="1.1" />
<path d="M271,1135 L310,1135 C313,1135 314.4,1137.5 314.4,1140.6 C314.4,1143.8 313,1146.25 310,1146.25 L271,1146.25 C268.5,1146.25 266.9,1143.8 266.9,1140.6 C266.9,1137.5 268.5,1135 271,1135 Z" stroke-width="1.1" />
<path clip-path="url(#c13)" d="M195.80,1147.00 L239.80,1191.00 M203.50,1147.00 L247.50,1191.00 M211.20,1147.00 L255.20,1191.00 M218.90,1147.00 L262.90,1191.00 M226.60,1147.00 L270.60,1191.00 M234.30,1147.00 L278.30,1191.00 M242.00,1147.00 L286.00,1191.00 M249.70,1147.00 L293.70,1191.00 M257.40,1147.00 L301.40,1191.00 M265.10,1147.00 L309.10,1191.00 M272.80,1147.00 L316.80,1191.00" stroke="#111" stroke-width="0.95"/>
<path clip-path="url(#c14)" d="M265.10,1147.00 L309.10,1191.00 M272.80,1147.00 L316.80,1191.00 M280.50,1147.00 L324.50,1191.00 M288.20,1147.00 L332.20,1191.00 M295.90,1147.00 L339.90,1191.00 M303.60,1147.00 L347.60,1191.00 M311.30,1147.00 L355.30,1191.00 M319.00,1147.00 L363.00,1191.00 M326.70,1147.00 L370.70,1191.00 M334.40,1147.00 L378.40,1191.00 M342.10,1147.00 L386.10,1191.00" stroke="#111" stroke-width="0.95"/>
<path d="M254,1148.1 L327,1148.1 L330.9,1152 L330.9,1187 L327,1190.7 L254,1190.7 L250.3,1187 L250.3,1152 Z" stroke-width="1.1" />
<path d="M259.5,1148.1 L259.5,1190.7 M262.6,1153.8 L262.6,1190.7 M321.7,1148.1 L321.7,1190.7 M318.7,1153.8 L318.7,1190.7" stroke-width="1.1" />
<path d="M259.5,1153.8 L281,1153.8 M300,1153.8 L321.7,1153.8" stroke-width="1.1" />
<path d="M262.6,1168 L318.7,1168 M262.6,1189.2 L318.7,1189.2" stroke-width="1.1" />
<path clip-path="url(#c15)" d="M246.00,1157.00 L257.00,1168.00 M250.50,1157.00 L261.50,1168.00 M255.00,1157.00 L266.00,1168.00 M259.50,1157.00 L270.50,1168.00 M264.00,1157.00 L275.00,1168.00 M268.50,1157.00 L279.50,1168.00 M273.00,1157.00 L284.00,1168.00 M277.50,1157.00 L288.50,1168.00 M282.00,1157.00 L293.00,1168.00" stroke="#111" stroke-width="0.9"/>
<path clip-path="url(#c16)" d="M255.00,1157.00 L244.00,1168.00 M259.50,1157.00 L248.50,1168.00 M264.00,1157.00 L253.00,1168.00 M268.50,1157.00 L257.50,1168.00 M273.00,1157.00 L262.00,1168.00 M277.50,1157.00 L266.50,1168.00 M282.00,1157.00 L271.00,1168.00 M286.50,1157.00 L275.50,1168.00 M291.00,1157.00 L280.00,1168.00 M295.50,1157.00 L284.50,1168.00" stroke="#111" stroke-width="0.9"/>
<path clip-path="url(#c17)" d="M287.00,1157.00 L298.00,1168.00 M291.50,1157.00 L302.50,1168.00 M296.00,1157.00 L307.00,1168.00 M300.50,1157.00 L311.50,1168.00 M305.00,1157.00 L316.00,1168.00 M309.50,1157.00 L320.50,1168.00 M314.00,1157.00 L325.00,1168.00 M318.50,1157.00 L329.50,1168.00 M323.00,1157.00 L334.00,1168.00" stroke="#111" stroke-width="0.9"/>
<path clip-path="url(#c18)" d="M300.50,1157.00 L289.50,1168.00 M305.00,1157.00 L294.00,1168.00 M309.50,1157.00 L298.50,1168.00 M314.00,1157.00 L303.00,1168.00 M318.50,1157.00 L307.50,1168.00 M323.00,1157.00 L312.00,1168.00 M327.50,1157.00 L316.50,1168.00 M332.00,1157.00 L321.00,1168.00 M336.50,1157.00 L325.50,1168.00" stroke="#111" stroke-width="0.9"/>
<path d="M263.4,1157.3 L275.6,1157.3 L275.6,1168 M317.4,1157.3 L305.2,1157.3 L305.2,1168" stroke-width="1.1" />
<path d="M264.5,1156.9 L281,1150.75 L281.8,1157.3 L275.6,1168 M316.2,1156.9 L299.6,1150.75 L298.8,1157.3 L305,1168" stroke-width="1.1" />
<path d="M281.8,1157.3 L298.8,1157.3 M277.6,1164.6 L303.5,1164.6" stroke-width="1.1" />
<path d="M270.5,1146.5 C280,1151 300,1151 310.5,1146.5" stroke-width="1.1" />
<line x1="290.6" y1="1088" x2="290.6" y2="1204.5" stroke-width="0.9" stroke-dasharray="36 5 6 5" stroke-dashoffset="0"/>
<path d="M465,1095 L511.5,1095 M557.5,1095 L687.5,1095 M692,1095 L760,1095" stroke-width="1.1" />
<path d="M465,1113.75 L520,1113.75 M563,1113.75 L687.5,1113.75 M692,1113.75 L760,1113.75" stroke-width="1.1" />
<line x1="465" y1="1095" x2="465" y2="1113.75" stroke-width="1.1" />
<path d="M470,1113.75 L532.5,1138 L572.5,1116.25 L578,1095" stroke-width="1.1" />
<path d="M511.25,1096.25 L546.25,1076.25 L566.25,1112.5 L531.25,1132.5 Z" stroke-width="1.1" />
<circle cx="538.9" cy="1104.4" r="12.2" stroke-width="1.1"/>
<path d="M533.75,1099.29 Q534.80,1097.30 537.05,1097.39 Q539.15,1103.43 543.92,1099.17 L543.92,1099.17 Q545.93,1100.18 545.88,1102.42 Q539.88,1104.57 544.78,1108.64 L544.78,1108.64 Q544.06,1110.77 541.83,1111.04 Q538.68,1105.37 533.36,1109.08 L533.36,1109.08 Q531.47,1107.87 531.75,1105.64 Q537.95,1104.10 533.75,1099.29 Z" stroke-width="1.0" />
<line x1="538.75" y1="1110" x2="538.75" y2="1280" stroke-width="0.9" />
<line x1="481.25" y1="1104.3" x2="983.75" y2="1104.3" stroke-width="0.9" stroke-dasharray="36 5 6 5" stroke-dashoffset="0"/>
<path d="M764,1062.1 L775.7,1062.1 L775.7,1146.4 L764,1146.4 L760,1142.5 L760,1066 Z" stroke-width="1.1" />
<line x1="764" y1="1062.1" x2="764" y2="1146.4" stroke-width="1.1" />
<rect x="775.7" y="1061.4" width="25.7" height="85.7" fill="url(#kn)" stroke="none"/>
<path d="M775.7,1061.4 L801.4,1061.4 L801.4,1147.1 L775.7,1147.1 Z M775.7,1065.5 L801.4,1065.5 M775.7,1143 L801.4,1143" stroke-width="1.1" />
<path d="M801.4,1062.1 L812.9,1062.1 L812.9,1146.4 L801.4,1146.4" stroke-width="1.1" />
<path d="M812.9,1065.7 L827.4,1065.7 L827.4,1142.6 L812.9,1142.6 M812.9,1069.3 L827.4,1069.3 M812.9,1138.6 L827.4,1138.6" stroke-width="1.1" />
<path d="M827.4,1069.3 L868.6,1069.3 C880,1076 886.4,1090 886.4,1104.3 C886.4,1118 880,1132 868.6,1139.3 L827.4,1139.3" stroke-width="1.1" />
<path d="M822.3,849.3 L1045.5,849.3 L1045.5,854.4 L1015.5,862.1 L851.4,862.1 L822.3,854.4 Z" stroke-width="1.1" />
<line x1="822.3" y1="854.4" x2="1045.5" y2="854.4" stroke-width="1.1" />
<path d="M851.4,862.1 C862,865 868,873 870.7,880.4 C873,886 876,894 878.2,900.7" stroke-width="1.1" />
<path d="M1016.1,862.1 C1005.5,865 999.5,873 996.8,880.4 C994.5,886 991.5,894 989.3,900.7" stroke-width="1.1" />
<line x1="870.7" y1="879.8" x2="996.8" y2="879.8" stroke-width="1.1" />
<path d="M873.5,885.7 L824.1,885.7 L824.1,904.1 L878.2,904.1" stroke-width="1.1" />
<path d="M994,885.7 L1043.4,885.7 L1043.4,904.1 L989.3,904.1" stroke-width="1.1" />
<path d="M878.2,900.7 L989.3,900.7" stroke-width="1.1" />
<path d="M878.2,900.7 L878.2,910.9 L882.5,910.9 L882.5,955.4 L878.2,955.4 L878.2,989.1" stroke-width="1.1" />
<path d="M882.5,910.9 L886.6,910.9 L886.6,955.4 L882.5,955.4" stroke-width="1.1" />
<path d="M989.3,900.7 L989.3,910.9 L985,910.9 L985,955.4 L989.3,955.4 L989.3,989.1" stroke-width="1.1" />
<path d="M985,910.9 L980.9,910.9 L980.9,955.4 L985,955.4" stroke-width="1.1" />
<rect x="911.4" y="910.9" width="45" height="44.5" rx="6.5" stroke-width="1.1"/>
<path d="M836.4,989.1 L1031.4,989.1 C1035,989.1 1040.5,995 1041.7,999.3 L1042.4,1001.4 L1049.9,1009.6 L1047.4,1012.5 L1040.3,1005.1 L827.5,1005.1 L820.4,1012.5 L817.9,1009.6 L825.4,1001.4 L826.1,999.3 C827.5,995 833,989.1 836.4,989.1 Z" stroke-width="1.1" />
<path d="M831.4,1005.1 L831.4,1013.2 L868.6,1017.1 L999,1017.1 L1036.1,1013.2 L1036.1,1005.1" stroke-width="1.1" />
<line x1="831.4" y1="1013.2" x2="1036.1" y2="1013.2" stroke-width="1.1" />
<line x1="868.6" y1="1017.1" x2="868.6" y2="1069.3" stroke-width="1.1" />
<line x1="868.6" y1="1139.3" x2="868.6" y2="1147" stroke-width="1.1" />
<line x1="999" y1="1017.1" x2="999" y2="1147" stroke-width="1.1" />
<line x1="868.6" y1="1147" x2="999" y2="1147" stroke-width="1.1" />
<path d="M868.6,1147 L857.8,1159.7 L857.8,1185 C857.8,1187 859,1187.7 861,1187.7 L1007.3,1187.7 C1009.3,1187.7 1010.5,1187 1010.5,1185 L1010.5,1159.7 L999,1147" stroke-width="1.1" />
<path d="M857.8,1159.7 L1010.5,1159.7 M861.2,1160.5 L861.2,1184.3 M1007,1160.5 L1007,1184.3 M859,1184.3 L1009.5,1184.3" stroke-width="1.1" />
<line x1="933.9" y1="833.2" x2="933.9" y2="876.8" stroke-width="1.0" />
<line x1="933.9" y1="876.8" x2="933.9" y2="1160" stroke-width="1.0" stroke-dasharray="36 5 6 5" stroke-dashoffset="36"/>
<line x1="933.9" y1="1160" x2="933.9" y2="1280" stroke-width="0.9" />
<line x1="857.5" y1="1187.7" x2="857.5" y2="1241.1" stroke-width="0.9" />
<line x1="1010.5" y1="1187.7" x2="1010.5" y2="1241.1" stroke-width="0.9" />
<line x1="858.7" y1="1233.8" x2="1008.8" y2="1233.8" stroke-width="0.9" />
<path d="M858.70,1233.80 L879.70,1230.30 L879.70,1237.30 Z" fill="#111" stroke="none"/>
<path d="M1008.80,1233.80 L987.80,1237.30 L987.80,1230.30 Z" fill="#111" stroke="none"/>
<g transform="translate(903.6,1212.8) scale(1.7018,1.3600)" fill="none" stroke="#151515" stroke-width="1.5" stroke-linecap="round" stroke-linejoin="round"><path transform="translate(0.300,0) scale(0.9,1)" d="M5.8,1.6 C5.2,0.6 4.2,0 3,0 C1.2,0 0,1.3 0,3.3 L0,6.7 C0,8.7 1.2,10 3,10 C4.8,10 6,8.8 6,7 L6,5.6 L3.4,5.6" vector-effect="non-scaling-stroke"/></g>
<g transform="translate(918.4,1203.3) scale(1.5238,2.3100)" fill="none" stroke="#151515" stroke-width="1.9" stroke-linecap="round" stroke-linejoin="round"><path transform="translate(0.000,0) scale(1.0,1)" d="M1.2,2.3 C2.4,1.8 3.6,1 4.2,0 L4.2,10" vector-effect="non-scaling-stroke"/></g>
<g transform="translate(934.1,1212.8) scale(1.3950,1.3600)" fill="none" stroke="#151515" stroke-width="1.5" stroke-linecap="round" stroke-linejoin="round"><path transform="translate(0.000,0) scale(1.0,1)" d="M1.2,2.3 C2.4,1.8 3.6,1 4.2,0 L4.2,10" vector-effect="non-scaling-stroke"/><path transform="translate(7.200,0) scale(1.0,1)" d="M0,11.5 L6.6,-1.5" vector-effect="non-scaling-stroke"/><path transform="translate(15.710,0) scale(0.9,1)" d="M4.6,10 L4.6,0 L0,7.1 L6.2,7.1" vector-effect="non-scaling-stroke"/></g>
<line x1="539.5" y1="1273.75" x2="933.9" y2="1273.75" stroke-width="0.9" />
<path d="M539.50,1273.75 L560.50,1270.25 L560.50,1277.25 Z" fill="#111" stroke="none"/>
<path d="M933.90,1273.75 L912.90,1277.25 L912.90,1270.25 Z" fill="#111" stroke="none"/>
<g transform="translate(688.8,1256.4) scale(1.4480,1.4200)" fill="none" stroke="#151515" stroke-width="1.5" stroke-linecap="round" stroke-linejoin="round"><path transform="translate(0.444,0) scale(0.88,1)" d="M0,10 L0,0 L3.7,8.2 L7.4,0 L7.4,10" vector-effect="non-scaling-stroke"/><path transform="translate(9.400,0) scale(1.0,1)" d="M0.4,3.5 C1,2.9 1.9,2.6 3,2.6 C4.6,2.6 5.6,3.4 5.6,4.9 L5.6,10 M5.6,6.2 L2.6,6.2 C1,6.2 0,7 0,8.2 C0,9.3 1,10 2.4,10 C3.9,10 5,9.4 5.6,8.4" vector-effect="non-scaling-stroke"/><path transform="translate(16.400,0) scale(1.0,1)" d="M0,2.6 L5.8,10 M5.8,2.6 L0,10" vector-effect="non-scaling-stroke"/><path transform="translate(23.600,0) scale(1.0,1)" d="M1.2,2.3 C2.4,1.8 3.6,1 4.2,0 L4.2,10" vector-effect="non-scaling-stroke"/><path transform="translate(31.100,0) scale(0.9,1)" d="M5.6,0 L0.8,0 L0.4,4.5 C1.1,3.9 2,3.6 3,3.6 C4.8,3.6 6,4.9 6,6.8 C6,8.7 4.8,10 3,10 C1.7,10 0.6,9.4 0,8.5" vector-effect="non-scaling-stroke"/><path transform="translate(38.360,0) scale(0.88,1)" d="M0,3 C0,1.1 1.2,0 3,0 C4.8,0 6,1.1 6,3 L6,7 C6,8.9 4.8,10 3,10 C1.2,10 0,8.9 0,7 Z" vector-effect="non-scaling-stroke"/><path transform="translate(45.584,0) scale(0.92,1)" d="M0,10 L0,2.6 M0,4.4 C0.4,3.3 1.2,2.6 2.4,2.6 C3.8,2.6 4.8,3.3 4.8,4.8 L4.8,10 M4.8,4.4 C5.2,3.3 6,2.6 7.2,2.6 C8.6,2.6 9.6,3.3 9.6,4.8 L9.6,10" vector-effect="non-scaling-stroke"/><path transform="translate(56.984,0) scale(0.92,1)" d="M0,10 L0,2.6 M0,4.4 C0.4,3.3 1.2,2.6 2.4,2.6 C3.8,2.6 4.8,3.3 4.8,4.8 L4.8,10 M4.8,4.4 C5.2,3.3 6,2.6 7.2,2.6 C8.6,2.6 9.6,3.3 9.6,4.8 L9.6,10" vector-effect="non-scaling-stroke"/></g>
</g></svg></body></html>
